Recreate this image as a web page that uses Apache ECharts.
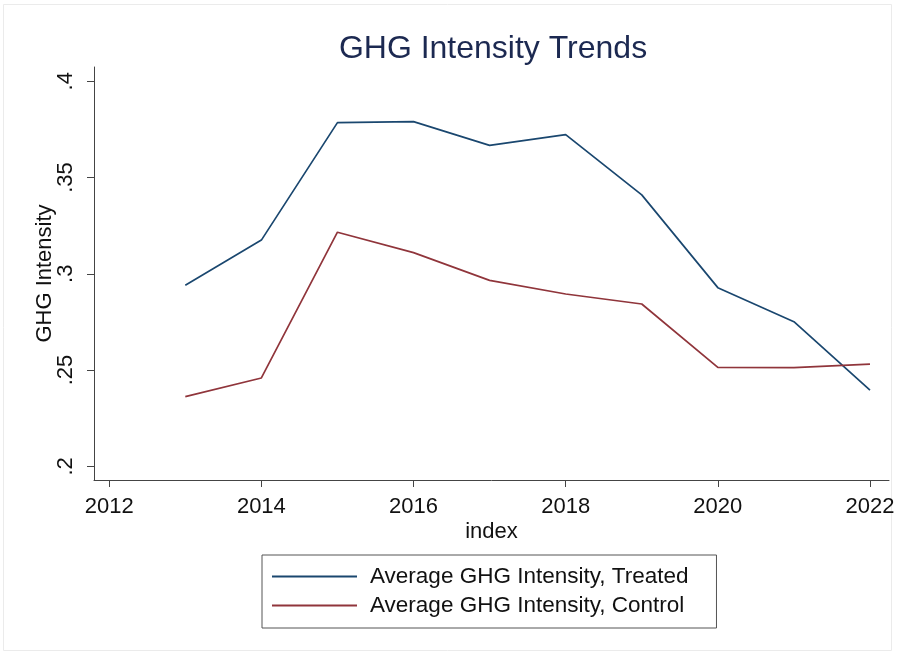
<!DOCTYPE html>
<html>
<head>
<meta charset="utf-8">
<script src="https://cdn.jsdelivr.net/npm/echarts@6/dist/echarts.min.js"></script>
<style>
  html, body { margin: 0; padding: 0; background: #fff; }
  #main { width: 904px; height: 659px; }
</style>
</head>
<body>
<div id="main"></div>
<script>
var chart = echarts.init(document.getElementById('main'));

var years = [2013, 2014, 2015, 2016, 2017, 2018, 2019, 2020, 2021, 2022];
var treated = [0.294, 0.3175, 0.3785, 0.379, 0.3667, 0.3723, 0.341, 0.2928, 0.2751, 0.2396];
var control = [0.2362, 0.2459, 0.3216, 0.311, 0.2966, 0.2895, 0.2843, 0.2514, 0.2513, 0.2531];
var xTicks = [2012, 2014, 2016, 2018, 2020, 2022];
var yTicks = [0.2, 0.25, 0.3, 0.35, 0.4];
var names = ['Average GHG Intensity, Treated', 'Average GHG Intensity, Control'];

function pairs(vals) {
    var list = [];
    for (var i = 0; i < years.length; i++) {
        list.push([years[i], vals[i]]);
    }
    return list;
}

var fontFam = '"Liberation Sans", Arial, sans-serif';
var axisCol = '#444';

var option = {
    backgroundColor: '#fff',
    animation: false,
    title: {
        text: 'GHG Intensity Trends',
        left: 488,
        top: 28,
        textAlign: 'center',
        textStyle: { fontFamily: fontFam, fontSize: 32, fontWeight: 'normal', color: '#1c2951' }
    },
    graphic: [{
        type: 'rect',
        shape: { x: 3.5, y: 4.5, width: 888, height: 646 },
        style: { fill: 'none', stroke: '#ebebeb', lineWidth: 1 },
        silent: true
    }],
    grid: { left: 94, top: 67, width: 795, height: 413, outerBoundsMode: 'none' },
    legend: {
        data: names,
        orient: 'vertical',
        left: 262,
        top: 555,
        padding: [10, 28, 11, 10],
        itemGap: 6,
        itemWidth: 85,
        itemHeight: 2,
        icon: 'rect',
        borderColor: '#555',
        borderWidth: 1,
        textStyle: { fontFamily: fontFam, fontSize: 22.5, color: '#111', padding: [0, 0, 0, 8] }
    },
    xAxis: {
        type: 'value',
        min: 2011.8,
        max: 2022.25,
        name: 'index',
        nameLocation: 'middle',
        nameGap: 41,
        nameMoveOverlap: false,
        nameTextStyle: { fontFamily: fontFam, fontSize: 22, color: '#111' },
        axisLine: { lineStyle: { color: axisCol, width: 1 } },
        axisTick: { show: true, length: 7, customValues: xTicks, lineStyle: { color: axisCol } },
        axisLabel: {
            customValues: xTicks, fontFamily: fontFam, fontSize: 22, color: '#111', margin: 16,
            formatter: function (v) { return String(v); }
        },
        splitLine: { show: false }
    },
    yAxis: {
        type: 'value',
        min: 0.1929,
        max: 0.4074,
        name: 'GHG Intensity',
        nameLocation: 'middle',
        nameGap: 38,
        nameMoveOverlap: false,
        nameRotate: 90,
        nameTextStyle: { fontFamily: fontFam, fontSize: 22, color: '#111' },
        axisLine: { show: true, lineStyle: { color: axisCol, width: 1 } },
        axisTick: { show: true, length: 7, customValues: yTicks, lineStyle: { color: axisCol } },
        axisLabel: {
            customValues: yTicks,
            rotate: 90,
            fontFamily: fontFam, fontSize: 22, color: '#111', margin: 17,
            formatter: function (v) { return String(+v.toFixed(2)).replace(/^0/, ''); }
        },
        splitLine: { show: false }
    },
    series: [{
        name: names[0],
        type: 'line',
        data: pairs(treated),
        symbol: 'none',
        color: '#1a476f',
        lineStyle: { width: 1.7, color: '#1a476f' }
    }, {
        name: names[1],
        type: 'line',
        data: pairs(control),
        symbol: 'none',
        color: '#90353b',
        lineStyle: { width: 1.7, color: '#90353b' }
    }]
};

chart.setOption(option);
</script>
</body>
</html>
